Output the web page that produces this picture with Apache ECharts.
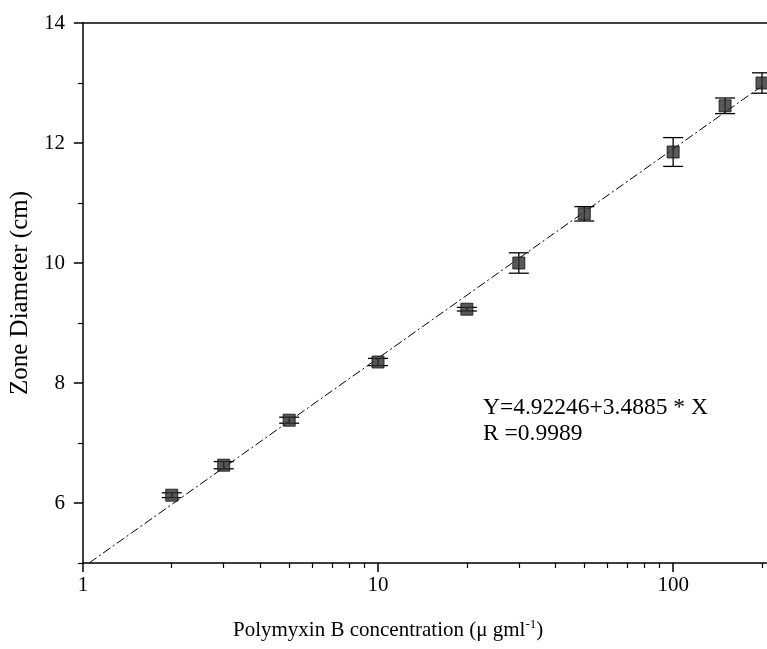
<!DOCTYPE html>
<html><head><meta charset="utf-8">
<script src="https://cdn.jsdelivr.net/npm/echarts@6/dist/echarts.min.js"></script>
<style>html,body{margin:0;padding:0;background:#fff}#c{width:767px;height:649px}</style>
</head><body><div id="c"></div>
<script>
const concentrations = [2, 3, 5, 10, 20, 30, 50, 100, 150, 200];
const zoneDiameter = [6.13, 6.63, 7.38, 8.35, 9.23, 10.0, 10.82, 11.85, 12.62, 13.0];
const errorHalf = [0.04, 0.06, 0.05, 0.06, 0.03, 0.17, 0.12, 0.24, 0.13, 0.17];
const fitLine = [[1.05, 5.0], [200, 12.95]];
const xMajorTicks = [1, 10, 100];
const xMinorTicks = [2, 3, 4, 5, 6, 7, 8, 9, 20, 30, 40, 50, 60, 70, 80, 90, 200];
const yMajorTicks = [6, 8, 10, 12, 14];
const yMinorTicks = [5, 7, 9, 11, 13];
const equationText = 'Y=4.92246+3.4885 * X';
const rText = 'R =0.9989';

const FONT = 'Liberation Serif';
const chart = echarts.init(document.getElementById('c'), null, {renderer: 'canvas'});
const scatterData = concentrations.map((c, i) => [c, zoneDiameter[i]]);
const errData = concentrations.map((c, i) => [c, zoneDiameter[i] - errorHalf[i], zoneDiameter[i] + errorHalf[i]]);
const axisLineStyle = {color: '#000', width: 1.5};

chart.setOption({
  animation: false,
  backgroundColor: '#fff',
  grid: {left: 81, right: 0, top: 23, bottom: 86},
  xAxis: [
    {
      type: 'log', logBase: 10, min: 1, max: 208, position: 'bottom',
      axisLine: {show: true, onZero: false, lineStyle: axisLineStyle},
      axisTick: {show: true, inside: false, length: 9, customValues: xMajorTicks, lineStyle: {color: '#000', width: 1.5}},
      axisLabel: {show: true, customValues: xMajorTicks, margin: 12, color: '#000', fontFamily: FONT, fontSize: 21},
      splitLine: {show: false}
    },
    {
      type: 'log', logBase: 10, min: 1, max: 208, position: 'bottom',
      axisLine: {show: false},
      axisTick: {show: true, inside: false, length: 5, customValues: xMinorTicks, lineStyle: {color: '#000', width: 1.2}},
      axisLabel: {show: false},
      splitLine: {show: false}
    },
    {
      type: 'value', min: 0, max: 1, position: 'top',
      axisLine: {show: true, onZero: false, lineStyle: axisLineStyle},
      axisTick: {show: false}, axisLabel: {show: false}, splitLine: {show: false}
    }
  ],
  yAxis: [
    {
      type: 'value', min: 5, max: 14, position: 'left',
      name: 'Zone Diameter (cm)', nameLocation: 'middle', nameGap: 47,
      nameTextStyle: {color: '#000', fontFamily: FONT, fontSize: 25},
      axisLine: {show: true, onZero: false, lineStyle: axisLineStyle},
      axisTick: {show: true, inside: false, length: 9, customValues: yMajorTicks, lineStyle: {color: '#000', width: 1.5}},
      axisLabel: {show: true, customValues: yMajorTicks, margin: 18, color: '#000', fontFamily: FONT, fontSize: 21},
      splitLine: {show: false}
    },
    {
      type: 'value', min: 5, max: 14, position: 'left',
      axisLine: {show: false},
      axisTick: {show: true, inside: false, length: 5, customValues: yMinorTicks, lineStyle: {color: '#000', width: 1.2}},
      axisLabel: {show: false},
      splitLine: {show: false}
    }
  ],
  series: [
    {
      type: 'line', xAxisIndex: 0, yAxisIndex: 0, data: fitLine, showSymbol: false, symbol: 'none',
      lineStyle: {color: '#000', width: 1, type: [9, 3, 2, 3]}, z: 2, silent: true
    },
    {
      type: 'custom', xAxisIndex: 0, yAxisIndex: 0, data: errData, encode: {x: 0, y: [1, 2]}, z: 3,
      renderItem: function (params, api) {
        const x = api.value(0);
        const top = api.coord([x, api.value(2)]);
        const bot = api.coord([x, api.value(1)]);
        const w = 10;
        const st = {stroke: '#000', lineWidth: 1.3};
        return {type: 'group', children: [
          {type: 'line', shape: {x1: top[0], y1: top[1], x2: bot[0], y2: bot[1]}, style: st},
          {type: 'line', shape: {x1: top[0] - w, y1: top[1], x2: top[0] + w, y2: top[1]}, style: st},
          {type: 'line', shape: {x1: bot[0] - w, y1: bot[1], x2: bot[0] + w, y2: bot[1]}, style: st}
        ]};
      }
    },
    {
      type: 'scatter', xAxisIndex: 0, yAxisIndex: 0, data: scatterData, symbol: 'rect', symbolSize: 12,
      itemStyle: {color: '#2e2e2e', borderColor: '#111', borderWidth: 1}, z: 4
    }
  ],
  graphic: [
    {type: 'text', left: 483, top: 396, style: {text: equationText, fill: '#000', font: '23.5px "Liberation Serif"'}},
    {type: 'text', left: 483, top: 422, style: {text: rText, fill: '#000', font: '23.5px "Liberation Serif"'}},
    {type: 'text', left: 233, top: 618, style: {
      text: '{a|Polymyxin B concentration (μ gml}{s|-1}{a|)}',
      rich: {
        a: {fontFamily: FONT, fontSize: 21, fill: '#000', color: '#000'},
        s: {fontFamily: FONT, fontSize: 13, fill: '#000', color: '#000', padding: [0, 0, 11, 0]}
      }
    }}
  ]
});
</script></body></html>
